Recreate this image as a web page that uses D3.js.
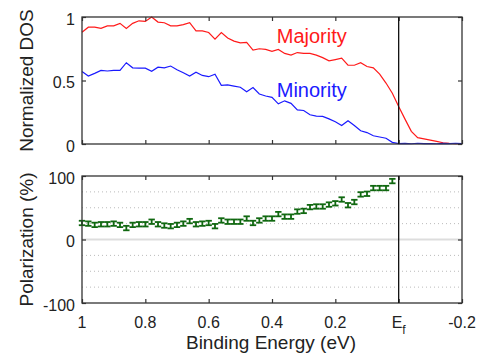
<!DOCTYPE html>
<html>
<head>
    <meta charset="utf-8">
    <title>Spin-resolved DOS</title>
    <script src="https://cdnjs.cloudflare.com/ajax/libs/d3/7.8.5/d3.min.js"></script>
    <style>
        body {
            margin: 0;
            background: white;
            font-family: Arial, "Liberation Sans", sans-serif;
        }
    </style>
</head>
<body>
    <div id="chart"></div>

    <script>
        // binding energy grid (eV) for the DOS curves
        const energy = [1.00, 0.98, 0.96, 0.94, 0.92, 0.90, 0.88, 0.86, 0.84, 0.82,
                        0.80, 0.78, 0.76, 0.74, 0.72, 0.70, 0.68, 0.66, 0.64, 0.62,
                        0.60, 0.58, 0.56, 0.54, 0.52, 0.50, 0.48, 0.46, 0.44, 0.42,
                        0.40, 0.38, 0.36, 0.34, 0.32, 0.30, 0.28, 0.26, 0.24, 0.22,
                        0.20, 0.18, 0.16, 0.14, 0.12, 0.10, 0.08, 0.06, 0.04, 0.02,
                        0.00, -0.02, -0.04, -0.06, -0.08, -0.10, -0.12, -0.14, -0.16, -0.18, -0.20];

        const majority = [0.88, 0.92, 0.92, 0.91, 0.93, 0.93, 0.95, 0.91, 0.95, 0.97,
                          0.965, 1.00, 0.96, 0.955, 0.93, 0.93, 0.94, 0.955, 0.89, 0.89,
                          0.878, 0.825, 0.878, 0.835, 0.81, 0.797, 0.80, 0.74, 0.75, 0.745,
                          0.73, 0.745, 0.713, 0.70, 0.72, 0.713, 0.713, 0.70, 0.68, 0.655,
                          0.665, 0.676, 0.62, 0.62, 0.64, 0.61, 0.60, 0.55, 0.48, 0.40,
                          0.295, 0.196, 0.10, 0.05, 0.04, 0.03, 0.02, 0.01, 0.005, 0.003, 0.002];

        const minority = [0.57, 0.535, 0.556, 0.58, 0.575, 0.58, 0.58, 0.64, 0.60, 0.597,
                          0.597, 0.572, 0.605, 0.60, 0.614, 0.585, 0.561, 0.535, 0.566, 0.54,
                          0.53, 0.55, 0.462, 0.465, 0.456, 0.447, 0.412, 0.444, 0.394, 0.378,
                          0.367, 0.316, 0.34, 0.32, 0.269, 0.264, 0.23, 0.22, 0.217, 0.198,
                          0.175, 0.146, 0.183, 0.146, 0.104, 0.09, 0.065, 0.055, 0.045, 0.013,
                          0.003, 0.005, 0.002, 0.006, 0.003, 0.004, 0.002, 0.005, 0.003, 0.006, 0.004];

        // polarization points (%) on 1.00 .. 0.02 eV
        const polEnergy = energy.slice(0, 50);
        const polarization = [26, 25, 23, 24, 24, 25, 23, 18, 23, 24,
                              24, 28, 24, 22, 21, 23, 25, 29, 24, 25,
                              26, 21, 30, 28, 28, 28, 33, 26, 30, 33,
                              33, 40, 36, 36, 44, 45, 51, 52, 52, 55,
                              57, 63, 54, 59, 71, 72, 81, 81, 81, 92];
        const polError = 3.5;

        const xTicks = [1, 0.8, 0.6, 0.4, 0.2, 0, -0.2];
        const dosTicks = [0, 0.5, 1];
        const polTicks = [-100, 0, 100];
        const polGrid = [-75, -50, -25, 25, 50, 75];

        const width = 481, height = 356;
        const left = 82, right = 462;
        const top1 = 17, bottom1 = 144;
        const top2 = 176, bottom2 = 303;

        const svg = d3.select("#chart").append("svg")
            .attr("width", width)
            .attr("height", height)
            .style("font-family", "Arial, 'Liberation Sans', sans-serif");

        const x = d3.scaleLinear().domain([1, -0.2]).range([left, right]);
        const yDos = d3.scaleLinear().domain([0, 1]).range([bottom1, top1]);
        const yPol = d3.scaleLinear().domain([-100, 100]).range([bottom2, top2]);

        const frameColor = "#333";

        function drawFrame(y, top, bottom, ticks, fmt) {
            const g = svg.append("g");
            // x ticks, bottom and top, pointing inward
            g.append("g").attr("transform", `translate(0,${bottom})`)
                .call(d3.axisBottom(x).tickValues(xTicks).tickSize(-4).tickFormat(""))
                .call(a => a.select(".domain").remove());
            g.append("g").attr("transform", `translate(0,${top})`)
                .call(d3.axisTop(x).tickValues(xTicks).tickSize(-4).tickFormat(""))
                .call(a => a.select(".domain").remove());
            g.append("g").attr("transform", `translate(${right},0)`)
                .call(d3.axisRight(y).tickValues(ticks).tickSize(-4).tickFormat(""))
                .call(a => a.select(".domain").remove());
            const ya = g.append("g").attr("transform", `translate(${left},0)`)
                .call(d3.axisLeft(y).tickValues(ticks).tickSize(-4).tickFormat(fmt))
                .call(a => a.select(".domain").remove());
            ya.selectAll(".tick text")
                .attr("x", -7)
                .attr("dy", null)
                .attr("y", 7)
                .attr("font-size", 16)
                .attr("font-family", "Arial, 'Liberation Sans', sans-serif")
                .attr("fill", "#222");
            g.selectAll(".tick line").attr("stroke", frameColor).attr("stroke-width", 1.2);
            g.append("rect")
                .attr("x", left).attr("y", top)
                .attr("width", right - left).attr("height", bottom - top)
                .attr("fill", "none")
                .attr("stroke", frameColor)
                .attr("stroke-width", 1.3);
            return g;
        }

        // ---- top panel: DOS ----
        const line = d3.line().x((d, i) => x(energy[i])).y(d => yDos(d));

        svg.append("path").datum(majority)
            .attr("d", line).attr("fill", "none")
            .attr("stroke", "#ff1a1a").attr("stroke-width", 1.2);
        svg.append("path").datum(minority)
            .attr("d", line).attr("fill", "none")
            .attr("stroke", "#1a1aff").attr("stroke-width", 1.2);

        svg.append("text").attr("x", x(0.385)).attr("y", yDos(0.795))
            .attr("font-size", 20).attr("fill", "#ff1a1a").text("Majority");
        svg.append("text").attr("x", x(0.385)).attr("y", yDos(0.373))
            .attr("font-size", 20).attr("fill", "#1a1aff").text("Minority");

        drawFrame(yDos, top1, bottom1, dosTicks, d => d);

        // ---- bottom panel: polarization ----
        svg.append("g").selectAll("line")
            .data(polGrid)
            .join("line")
            .attr("x1", left).attr("x2", right)
            .attr("y1", d => yPol(d)).attr("y2", d => yPol(d))
            .attr("stroke", "#bbb")
            .attr("stroke-width", 1)
            .attr("stroke-dasharray", "1,3");
        svg.append("line")
            .attr("x1", left).attr("x2", right)
            .attr("y1", yPol(0)).attr("y2", yPol(0))
            .attr("stroke", "#ddd").attr("stroke-width", 2);

        const green = "#106810";
        const bars = svg.append("g").selectAll("g")
            .data(polarization)
            .join("g")
            .attr("stroke", green)
            .attr("stroke-width", 1.8);
        bars.append("line")
            .attr("x1", (d, i) => x(polEnergy[i])).attr("x2", (d, i) => x(polEnergy[i]))
            .attr("y1", d => yPol(d - polError)).attr("y2", d => yPol(d + polError));
        bars.append("line")
            .attr("x1", (d, i) => x(polEnergy[i]) - 3.2).attr("x2", (d, i) => x(polEnergy[i]) + 3.2)
            .attr("y1", d => yPol(d - polError)).attr("y2", d => yPol(d - polError));
        bars.append("line")
            .attr("x1", (d, i) => x(polEnergy[i]) - 3.2).attr("x2", (d, i) => x(polEnergy[i]) + 3.2)
            .attr("y1", d => yPol(d + polError)).attr("y2", d => yPol(d + polError));

        drawFrame(yPol, top2, bottom2, polTicks, d => d);

        // Fermi level marker in both panels
        [[top1, bottom1], [top2, bottom2]].forEach(([t, b]) => {
            svg.append("line")
                .attr("x1", x(0)).attr("x2", x(0))
                .attr("y1", t).attr("y2", b)
                .attr("stroke", "#111").attr("stroke-width", 1.3);
        });

        // x tick labels under bottom panel
        const xl = svg.append("g").selectAll("text")
            .data(xTicks)
            .join("text")
            .attr("x", d => x(d))
            .attr("y", 328)
            .attr("text-anchor", "middle")
            .attr("font-size", 16)
            .attr("fill", "#222");
        xl.filter(d => d !== 0).text(d => d);
        const ef = xl.filter(d => d === 0);
        ef.append("tspan").text("E");
        ef.append("tspan").attr("dy", 6).attr("font-size", 12).text("f");

        // axis titles
        svg.append("text")
            .attr("x", (left + right) / 2 - 1)
            .attr("y", 349)
            .attr("text-anchor", "middle")
            .attr("font-size", 19)
            .attr("fill", "#222")
            .text("Binding Energy (eV)");
        svg.append("text")
            .attr("transform", `translate(33,${(top1 + bottom1) / 2}) rotate(-90)`)
            .attr("text-anchor", "middle")
            .attr("font-size", 19)
            .attr("fill", "#222")
            .text("Normalized DOS");
        svg.append("text")
            .attr("transform", `translate(33,${(top2 + bottom2) / 2}) rotate(-90)`)
            .attr("text-anchor", "middle")
            .attr("font-size", 19)
            .attr("fill", "#222")
            .text("Polarization (%)");
    </script>
</body>
</html>
